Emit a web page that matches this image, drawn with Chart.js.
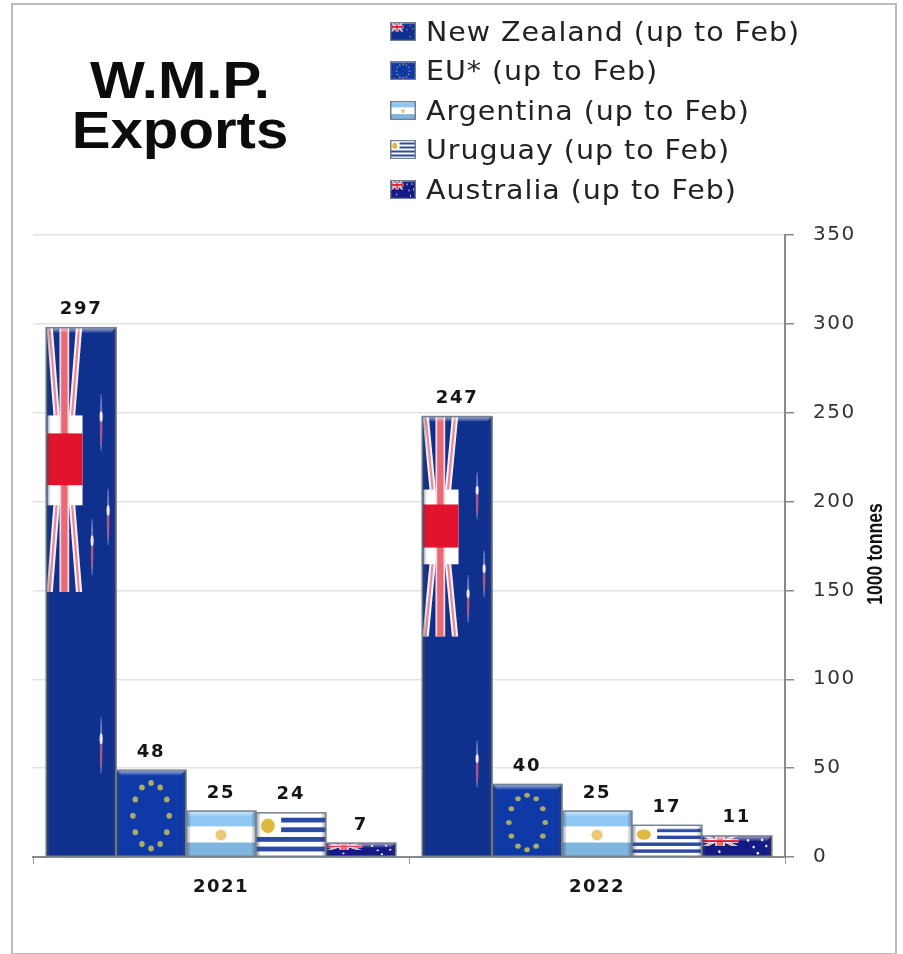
<!DOCTYPE html>
<html>
<head>
<meta charset="utf-8">
<title>W.M.P. Exports</title>
<script src="https://cdn.jsdelivr.net/npm/chart.js@4"></script>
<style>
  html, body { margin: 0; padding: 0; background: #fff; }
  #wrap { position: relative; width: 903px; height: 954px; overflow: hidden; filter: blur(0.45px); }
  #frame { position: absolute; left: 11px; top: 3px; width: 882px; height: 948px; border: 2px solid #bcbcbc; }
  #chart { position: absolute; left: 0; top: 0; }
  #title { position: absolute; left: 40px; top: 56px; width: 280px; text-align: center;
    font: bold 51px/50px "Liberation Sans", Arial, sans-serif; color: #0c0c0c;
    transform: scaleX(1.14); }
  #legend { position: absolute; left: 390px; top: 11.5px; }
  .row { display: flex; align-items: center; height: 39.5px; letter-spacing: 0.9px;
    font: 26.5px "DejaVu Sans", sans-serif; color: #222; white-space: nowrap; }
  .row canvas { margin-right: 10px; filter: blur(0.6px); }
  .row span { display: inline-block; transform: scaleX(1.075); transform-origin: left center; }
</style>
</head>
<body>
<div id="wrap">
  <div id="frame"></div>
  <canvas id="chart" width="903" height="954"></canvas>
  <div id="title">W.M.P.<br>Exports</div>
  <div id="legend"></div>
</div>
<script>
// Datos (1000 tonnes)
const years = ['2021', '2022'];
const seriesNames = ['New Zealand (up to Feb)', 'EU* (up to Feb)', 'Argentina (up to Feb)', 'Uruguay (up to Feb)', 'Australia (up to Feb)'];
const newZealand = [297, 247];
const eu = [48, 40];
const argentina = [25, 25];
const uruguay = [24, 17];
const australia = [7, 11];
const yTicks = [0, 50, 100, 150, 200, 250, 300, 350];
const axisTitle = '1000 tonnes';

// Banda inclinada en coordenadas de bandera (0..1)
function band(c, x1, y1, x2, y2, dx, color) {
  c.fillStyle = color;
  c.beginPath();
  c.moveTo(x1 - dx, y1);
  c.lineTo(x1 + dx, y1);
  c.lineTo(x2 + dx, y2);
  c.lineTo(x2 - dx, y2);
  c.closePath();
  c.fill();
}

function blob(c, x, y, rx, ry, color) {
  c.fillStyle = color;
  c.beginPath();
  c.ellipse(x, y, rx, ry, 0, 0, Math.PI * 2);
  c.fill();
}

function unionJack(c) {
  const w = 0.52, h = 0.5, cx = 0.26, cy = 0.25;
  // diagonales blancas con centro rojo
  band(c, 0.05, 0, 0.2, cy, 0.045, '#f6f3ff');
  band(c, 0.47, 0, 0.32, cy, 0.045, '#f6f3ff');
  band(c, 0.2, cy, 0.05, h, 0.045, '#f6f3ff');
  band(c, 0.32, cy, 0.47, h, 0.045, '#f6f3ff');
  band(c, 0.05, 0, 0.2, cy, 0.016, '#ea8a92');
  band(c, 0.47, 0, 0.32, cy, 0.016, '#ea8a92');
  band(c, 0.2, cy, 0.05, h, 0.016, '#ea8a92');
  band(c, 0.32, cy, 0.47, h, 0.016, '#ea8a92');
  // cruz central
  c.fillStyle = '#ffffff';
  c.fillRect(0.02, 0.166, w - 0.02, 0.17);
  band(c, cx, 0, cx, h, 0.07, '#f6d9de');
  band(c, cx, 0, cx, h, 0.045, '#e76a76');
  c.fillStyle = '#e2132c';
  c.fillRect(0, 0.2, w, 0.098);
}

function flagStars(c, stars) {
  stars.forEach(s => {
    blob(c, s[0], s[1], 0.018, 0.055, 'rgba(190,195,240,0.5)');
    blob(c, s[0], s[1] + 0.012, 0.013, 0.03, 'rgba(215,70,100,0.85)');
    blob(c, s[0], s[1] - 0.012, 0.022, 0.01, '#f4e6ee');
  });
}

const flags = {
  nz(c) {
    c.fillStyle = '#10308e';
    c.fillRect(0, 0, 1, 1);
    unionJack(c);
    flagStars(c, [[0.786, 0.18], [0.886, 0.358], [0.657, 0.415], [0.786, 0.79]]);
  },
  eu(c) {
    c.fillStyle = '#0f39a6';
    c.fillRect(0, 0, 1, 1);
    for (let i = 0; i < 12; i++) {
      const a = i * Math.PI / 6;
      blob(c, 0.5 + 0.26 * Math.sin(a), 0.53 - 0.38 * Math.cos(a), 0.04, 0.035, '#a9ab66');
    }
  },
  ar(c) {
    c.fillStyle = '#8ec7f1';
    c.fillRect(0, 0, 1, 0.34);
    c.fillStyle = '#ffffff';
    c.fillRect(0, 0.34, 1, 0.36);
    c.fillStyle = '#7fb5df';
    c.fillRect(0, 0.7, 1, 0.3);
    blob(c, 0.5, 0.53, 0.08, 0.12, '#ecc878');
  },
  uy(c) {
    c.fillStyle = '#ffffff';
    c.fillRect(0, 0, 1, 1);
    c.fillStyle = '#2a4aa6';
    for (let i = 1; i < 9; i += 2) {
      const x = i < 5 ? 0.36 : 0;
      c.fillRect(x, i / 9, 1 - x, 1 / 9);
    }
    blob(c, 0.17, 0.3, 0.1, 0.17, '#dfb93f');
  },
  au(c) {
    c.fillStyle = '#141a84';
    c.fillRect(0, 0, 1, 1);
    unionJack(c);
    [[0.25, 0.78], [0.66, 0.22], [0.86, 0.2], [0.74, 0.55], [0.92, 0.5], [0.8, 0.85]].forEach(s => {
      blob(c, s[0], s[1], 0.018, 0.07, '#e6e6f7');
    });
  }
};

// Bisel: luz arriba, sombra en los lados y borde gris
function bevel(c, x, y, w, h, size) {
  const top = Math.min(size, h / 3);
  let g = c.createLinearGradient(0, y, 0, y + top);
  g.addColorStop(0, 'rgba(255,255,255,0.6)');
  g.addColorStop(1, 'rgba(255,255,255,0.1)');
  c.fillStyle = g;
  c.beginPath();
  c.moveTo(x, y);
  c.lineTo(x + w, y);
  c.lineTo(x + w - size, y + top);
  c.lineTo(x + size, y + top);
  c.closePath();
  c.fill();
  g = c.createLinearGradient(x, 0, x + w, 0);
  const e = Math.min(0.07, size / w);
  g.addColorStop(0, 'rgba(60,70,90,0.6)');
  g.addColorStop(e, 'rgba(60,70,90,0)');
  g.addColorStop(1 - e, 'rgba(60,70,90,0)');
  g.addColorStop(1, 'rgba(60,70,90,0.5)');
  c.fillStyle = g;
  c.fillRect(x, y, w, h);
  c.strokeStyle = '#75808f';
  c.lineWidth = 1.5;
  c.strokeRect(x, y, w, h);
}

function paintFlag(c, name, x, y, w, h, size) {
  c.save();
  c.beginPath();
  c.rect(x, y, w, h);
  c.clip();
  c.translate(x, y);
  c.scale(w, h);
  flags[name](c);
  c.restore();
  bevel(c, x, y, w, h, size);
}

const flagKeys = ['nz', 'eu', 'ar', 'uy', 'au'];

const barDecor = {
  id: 'barDecor',
  beforeDraw(chart) {
    chart.ctx.letterSpacing = '1.5px';
  },
  afterDatasetsDraw(chart) {
    const c = chart.ctx;
    chart.data.datasets.forEach((ds, i) => {
      chart.getDatasetMeta(i).data.forEach((bar, j) => {
        const p = bar.getProps(['x', 'y', 'base', 'width'], true);
        paintFlag(c, flagKeys[i], p.x - p.width / 2, p.y - 1.5, p.width, p.base - p.y + 1.5, 5);
        c.save();
        c.font = 'bold 18px "DejaVu Sans", sans-serif';
        c.letterSpacing = '1.8px';
        c.fillStyle = '#151515';
        c.textAlign = 'center';
        c.textBaseline = 'alphabetic';
        c.fillText(ds.data[j], p.x, p.y - 15);
        c.restore();
      });
    });
    // Título del eje, de abajo hacia arriba
    c.save();
    c.translate(882, 554);
    c.rotate(-Math.PI / 2);
    c.scale(0.8, 1);
    c.letterSpacing = '0px';
    c.font = 'bold 22px "Liberation Sans Narrow", "Liberation Sans", sans-serif';
    c.fillStyle = '#111';
    c.textAlign = 'center';
    c.fillText(axisTitle, 0, 0);
    c.restore();
  }
};

const values = [newZealand, eu, argentina, uruguay, australia];
const baseColors = ['#10308e', '#0f39a6', '#a9d0ef', '#ffffff', '#141a84'];

const chart = new Chart(document.getElementById('chart').getContext('2d'), {
  type: 'bar',
  data: {
    labels: years,
    datasets: seriesNames.map((name, i) => ({
      label: name,
      data: values[i],
      backgroundColor: baseColors[i],
      categoryPercentage: 0.93,
      barPercentage: 1
    }))
  },
  options: {
    responsive: false,
    animation: false,
    layout: { padding: { left: 33, top: 235, right: 0, bottom: 0 } },
    plugins: {
      legend: { display: false },
      title: { display: false }
    },
    scales: {
      x: {
        grid: { drawOnChartArea: false, tickLength: 7, tickColor: '#999', offset: true },
        border: { color: '#8a8a8a', width: 2 },
        ticks: {
          padding: 13,
          color: '#161616',
          font: { family: '"DejaVu Sans", sans-serif', size: 18, weight: 'bold' }
        },
        afterFit(scale) { scale.height = 97; }
      },
      y: {
        position: 'right',
        min: 0,
        max: 350,
        grid: { color: '#e2e2e2', lineWidth: 1.5, tickLength: 9, tickColor: '#8a8a8a' },
        border: { color: '#8a8a8a', width: 2 },
        afterBuildTicks(scale) { scale.ticks = yTicks.map(v => ({ value: v })); },
        ticks: {
          padding: 19,
          crossAlign: 'near',
          color: '#333',
          font: { family: '"DejaVu Sans", sans-serif', size: 20 }
        },
        afterFit(scale) { scale.width = 118; }
      }
    }
  },
  plugins: [barDecor]
});

// Leyenda en HTML a partir de los datasets
const legend = document.getElementById('legend');
chart.data.datasets.forEach((ds, i) => {
  const row = document.createElement('div');
  row.className = 'row';
  const icon = document.createElement('canvas');
  icon.width = 26;
  icon.height = 19;
  paintFlag(icon.getContext('2d'), flagKeys[i], 0.5, 0.5, 25, 18, 2);
  const text = document.createElement('span');
  text.textContent = ds.label;
  row.appendChild(icon);
  row.appendChild(text);
  legend.appendChild(row);
});
</script>
</body>
</html>
